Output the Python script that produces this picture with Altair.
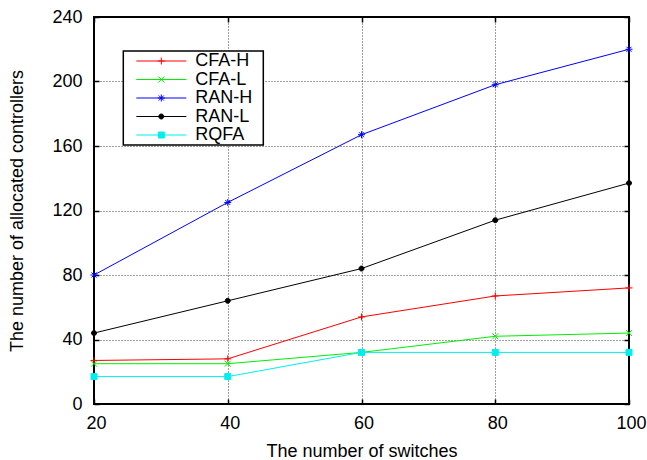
import altair as alt
import pandas as pd

# ---- data ----
switches = [20, 40, 60, 80, 100]
series_names = ["CFA-H", "CFA-L", "RAN-H", "RAN-L", "RQFA"]
cfa_h = [27, 28, 54, 67, 72]
cfa_l = [25, 25, 32, 42, 44]
ran_h = [80, 125, 167, 198, 220]
ran_l = [44, 64, 84, 114, 137]
rqfa = [17, 17, 32, 32, 32]
x_ticks = [20, 40, 60, 80, 100]
y_ticks = [0, 40, 80, 120, 160, 200, 240]

colors = ["#ff0000", "#00ee00", "#0000ff", "#000000", "#00eeee"]

# marker shapes (unit paths, drawn with size 100 -> 5 px per unit)
plus = "M-0.7,0L0.7,0M0,-0.7L0,0.7"
cross = "M-0.6,-0.6L0.6,0.6M-0.6,0.6L0.6,-0.6"
star = "M-0.7,0L0.7,0M0,-0.7L0,0.7M-0.5,-0.5L0.5,0.5M-0.5,0.5L0.5,-0.5"
circ = "M-0.5,0A0.5,0.5 0 1,0 0.5,0A0.5,0.5 0 1,0 -0.5,0Z"
square = "M-0.6,-0.6L0.6,-0.6L0.6,0.6L-0.6,0.6Z"
markers = [plus, cross, star, circ, square]
seg = "M-5,0L5,0"
legend_markers = [seg + m for m in markers]

values = {"CFA-H": cfa_h, "CFA-L": cfa_l, "RAN-H": ran_h, "RAN-L": ran_l, "RQFA": rqfa}
rows = []
for name in series_names:
    for xv, yv in zip(switches, values[name]):
        rows.append({"x": xv, "value": yv, "series": name})
df = pd.DataFrame(rows)

FONT = "Liberation Sans"
xscale = alt.Scale(domain=[20, 100], nice=False, zero=False)
yscale = alt.Scale(domain=[0, 240], nice=False)

base = alt.Chart(df)

lines = base.mark_line(strokeWidth=1).encode(
    x=alt.X("x:Q", scale=xscale, axis=alt.Axis(
        values=x_ticks, title="The number of switches", grid=True,
        gridDash=[1, 2], gridColor="#000000", gridOpacity=0.75, gridWidth=1,
        ticks=False, tickSize=0, domain=False, labelPadding=10, labelOffset=2,
        labelFlush=False,
        labelFont=FONT, labelFontSize=18, labelColor="black",
        titleFont=FONT, titleFontSize=18, titleFontWeight="normal", titleColor="black",
        titleBaseline="alphabetic", titleY=52)),
    y=alt.Y("value:Q", scale=yscale, axis=alt.Axis(
        values=y_ticks, title="The number of allocated controllers", grid=True,
        gridDash=[1, 2], gridColor="#000000", gridOpacity=0.75, gridWidth=1,
        ticks=False, tickSize=0, domain=False, labelPadding=12, labelFlush=False,
        labelFont=FONT, labelFontSize=18, labelColor="black",
        titleFont=FONT, titleFontSize=18, titleFontWeight="normal", titleColor="black",
        titleBaseline="alphabetic", titleX=-71.7, titleY=193.5, titleAngle=270)),
    color=alt.Color("series:N", scale=alt.Scale(domain=series_names, range=colors), legend=None),
    detail="series:N",
)

def tick_axis(orient, vals):
    return alt.Axis(orient=orient, values=vals, labels=False, title=None, grid=False,
                    domain=False, ticks=True, tickSize=5, tickWidth=1.5,
                    tickColor="black", offset=-5)

points = base.mark_point(size=100, strokeWidth=1, opacity=1).encode(
    x=alt.X("x:Q", scale=xscale, axis=tick_axis("top", x_ticks)),
    y=alt.Y("value:Q", scale=yscale, axis=tick_axis("right", y_ticks)),
    fill=alt.Fill("series:N", scale=alt.Scale(domain=series_names, range=colors), legend=None),
    stroke=alt.Stroke("series:N", scale=alt.Scale(domain=series_names, range=colors), legend=None),
    shape=alt.Shape("series:N", scale=alt.Scale(domain=series_names, range=markers), legend=None),
)

PAD = "\u00a0\u00a0\u200b"
leg = alt.Legend(orient="none", legendX=29.3, legendY=34, title=None, padding=1,
                 symbolSize=100, symbolStrokeWidth=1, symbolOffset=28, labelOffset=25,
                 rowPadding=0.5, labelFont=FONT, labelFontSize=18, labelColor="black",
                 labelExpr="datum.label + '" + PAD + "'",
                 strokeColor="black", fillColor="white")

legend_layer = base.transform_filter("false").mark_point(size=100, strokeWidth=1, opacity=1).encode(
    x=alt.X("x:Q", scale=xscale, axis=tick_axis("bottom", x_ticks)),
    y=alt.Y("value:Q", scale=yscale, axis=tick_axis("left", y_ticks)),
    fill=alt.Fill("series:N", scale=alt.Scale(domain=series_names, range=colors), legend=leg),
    stroke=alt.Stroke("series:N", scale=alt.Scale(domain=series_names, range=colors), legend=leg),
    shape=alt.Shape("series:N", scale=alt.Scale(domain=series_names, range=legend_markers), legend=leg),
)

chart = alt.layer(lines, points, legend_layer).resolve_scale(
    fill="independent", stroke="independent", shape="independent"
).resolve_axis(
    x="independent", y="independent"
).properties(
    width=535, height=387,
    autosize=alt.AutoSizeParams(type="none"),
    padding={"left": 94, "top": 17, "right": 18, "bottom": 56},
    background="white",
).configure_view(
    stroke="black", strokeWidth=2
).configure_legend(
    strokeWidth=1.5
)

chart.save("out.html", embed_options={"renderer": "svg", "actions": False})
